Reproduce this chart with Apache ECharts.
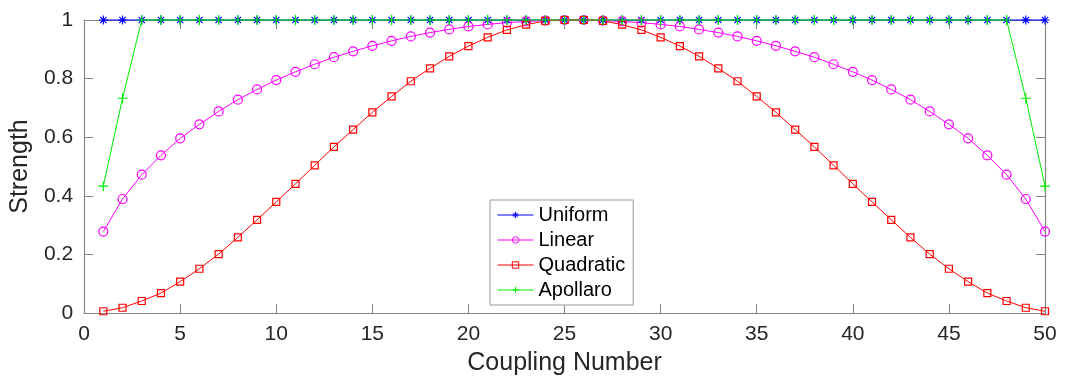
<!DOCTYPE html>
<html>
<head>
<meta charset="utf-8">
<script src="https://cdn.jsdelivr.net/npm/echarts@6/dist/echarts.min.js"></script>
<style>
html,body{margin:0;padding:0;background:#fff;}
#chart{width:1067px;height:381px;}
</style>
</head>
<body>
<div id="chart"></div>
<script>
var couplingNumbers = [1,2,3,4,5,6,7,8,9,10,11,12,13,14,15,16,17,18,19,20,21,22,23,24,25,26,27,28,29,30,31,32,33,34,35,36,37,38,39,40,41,42,43,44,45,46,47,48,49,50];
var uniformValues = [1,1,1,1,1,1,1,1,1,1,1,1,1,1,1,1,1,1,1,1,1,1,1,1,1,1,1,1,1,1,1,1,1,1,1,1,1,1,1,1,1,1,1,1,1,1,1,1,1,1];
var linearValues = [0.278,0.389,0.472,0.538,0.596,0.644,0.688,0.728,0.763,0.795,0.823,0.849,0.873,0.893,0.912,0.929,0.944,0.957,0.968,0.978,0.985,0.991,0.995,0.998,1.0,
                    1.0,0.998,0.995,0.991,0.985,0.978,0.968,0.957,0.944,0.929,0.912,0.893,0.873,0.849,0.823,0.795,0.763,0.728,0.688,0.644,0.596,0.538,0.472,0.389,0.278];
var quadraticValues = [0.006,0.018,0.041,0.068,0.107,0.151,0.201,0.258,0.318,0.379,0.441,0.504,0.567,0.626,0.685,0.739,0.791,0.835,0.876,0.911,0.941,0.966,0.984,0.997,1.0,
                       1.0,0.997,0.984,0.966,0.941,0.911,0.876,0.835,0.791,0.739,0.685,0.626,0.567,0.504,0.441,0.379,0.318,0.258,0.201,0.151,0.107,0.068,0.041,0.018,0.006];
var apollaroValues = [0.433,0.733,1,1,1,1,1,1,1,1,1,1,1,1,1,1,1,1,1,1,1,1,1,1,1,1,1,1,1,1,1,1,1,1,1,1,1,1,1,1,1,1,1,1,1,1,1,1,0.733,0.433];
var xTicks = {min:0, max:50, interval:5};
var yTicks = {min:0, max:1, interval:0.2};
var seriesNames = ['Uniform','Linear','Quadratic','Apollaro'];

function pairs(vals){ return couplingNumbers.map(function(x,i){ return [x, vals[i]]; }); }

var FONT = 'Liberation Sans';
var AXIS_GRAY = '#858585';
var TEXT = '#262626';
var ASTERISK = 'path://M0,-1L0,1M-1,0L1,0M-0.7,-0.7L0.7,0.7M-0.7,0.7L0.7,-0.7';
var PLUS = 'path://M0,-1L0,1M-1,0L1,0';
var CIRCLE = 'path://M1,0A1,1 0 1,1 -1,0A1,1 0 1,1 1,0Z';
var SQUARE = 'path://M-1,-1L1,-1L1,1L-1,1Z';

function mkSeries(name, vals, color, symbol, size){
  return {
    name: name, type: 'line', data: pairs(vals),
    xAxisIndex: 0, yAxisIndex: 0,
    symbol: symbol, symbolSize: size, showSymbol: true, clip: false,
    lineStyle: {color: color, width: 1},
    itemStyle: {color: 'none', borderColor: color, borderWidth: 1.2},
    emphasis: {disabled: true}
  };
}

var chart = echarts.init(document.getElementById('chart'), null, {renderer: 'canvas'});
var tickCommon = {show: true, inside: true, length: 9, lineStyle: {color: AXIS_GRAY, width: 1}};
var lineCommon = {show: true, onZero: false, lineStyle: {color: AXIS_GRAY, width: 1.2}};
chart.setOption({
  animation: false,
  backgroundColor: '#fff',
  grid: {left: 80, right: 22, top: 20, bottom: 66, containLabel: false},
  legend: {
    orient: 'vertical', left: 490, top: 200,
    data: seriesNames,
    itemWidth: 36, itemHeight: 8, itemGap: 5,
    padding: [5, 8, 5, 7],
    backgroundColor: '#fff', borderColor: '#999', borderWidth: 1, borderRadius: 0,
    lineStyle: {width: 1},
    itemStyle: {borderWidth: 1},
    textStyle: {fontFamily: FONT, fontSize: 20, color: '#000', lineHeight: 20},
    selectedMode: false
  },
  xAxis: [{
    type: 'value', position: 'bottom', min: xTicks.min, max: xTicks.max, interval: xTicks.interval,
    name: 'Coupling Number', nameLocation: 'middle', nameGap: 38,
    nameTextStyle: {fontFamily: FONT, fontSize: 25, color: TEXT},
    axisLine: lineCommon, axisTick: tickCommon,
    axisLabel: {fontFamily: FONT, fontSize: 21, color: TEXT, margin: 11},
    splitLine: {show: false}
  },{
    type: 'value', position: 'top', min: xTicks.min, max: xTicks.max, interval: xTicks.interval,
    axisLine: lineCommon, axisTick: tickCommon, axisLabel: {show: false}, splitLine: {show: false}
  }],
  yAxis: [{
    type: 'value', position: 'left', min: yTicks.min, max: yTicks.max, interval: yTicks.interval,
    name: 'Strength', nameLocation: 'middle', nameGap: 51,
    nameTextStyle: {fontFamily: FONT, fontSize: 25, color: TEXT},
    axisLine: lineCommon, axisTick: tickCommon,
    axisLabel: {fontFamily: FONT, fontSize: 21, color: TEXT, margin: 11},
    splitLine: {show: false}
  },{
    type: 'value', position: 'right', min: yTicks.min, max: yTicks.max, interval: yTicks.interval,
    axisLine: lineCommon, axisTick: tickCommon, axisLabel: {show: false}, splitLine: {show: false}
  }],
  series: [
    mkSeries('Uniform', uniformValues, '#0000ff', ASTERISK, 9),
    mkSeries('Linear', linearValues, '#ff00ff', CIRCLE, 9),
    mkSeries('Quadratic', quadraticValues, '#ff0000', SQUARE, 7),
    mkSeries('Apollaro', apollaroValues, '#00ee00', PLUS, 10)
  ]
});
</script>
</body>
</html>
